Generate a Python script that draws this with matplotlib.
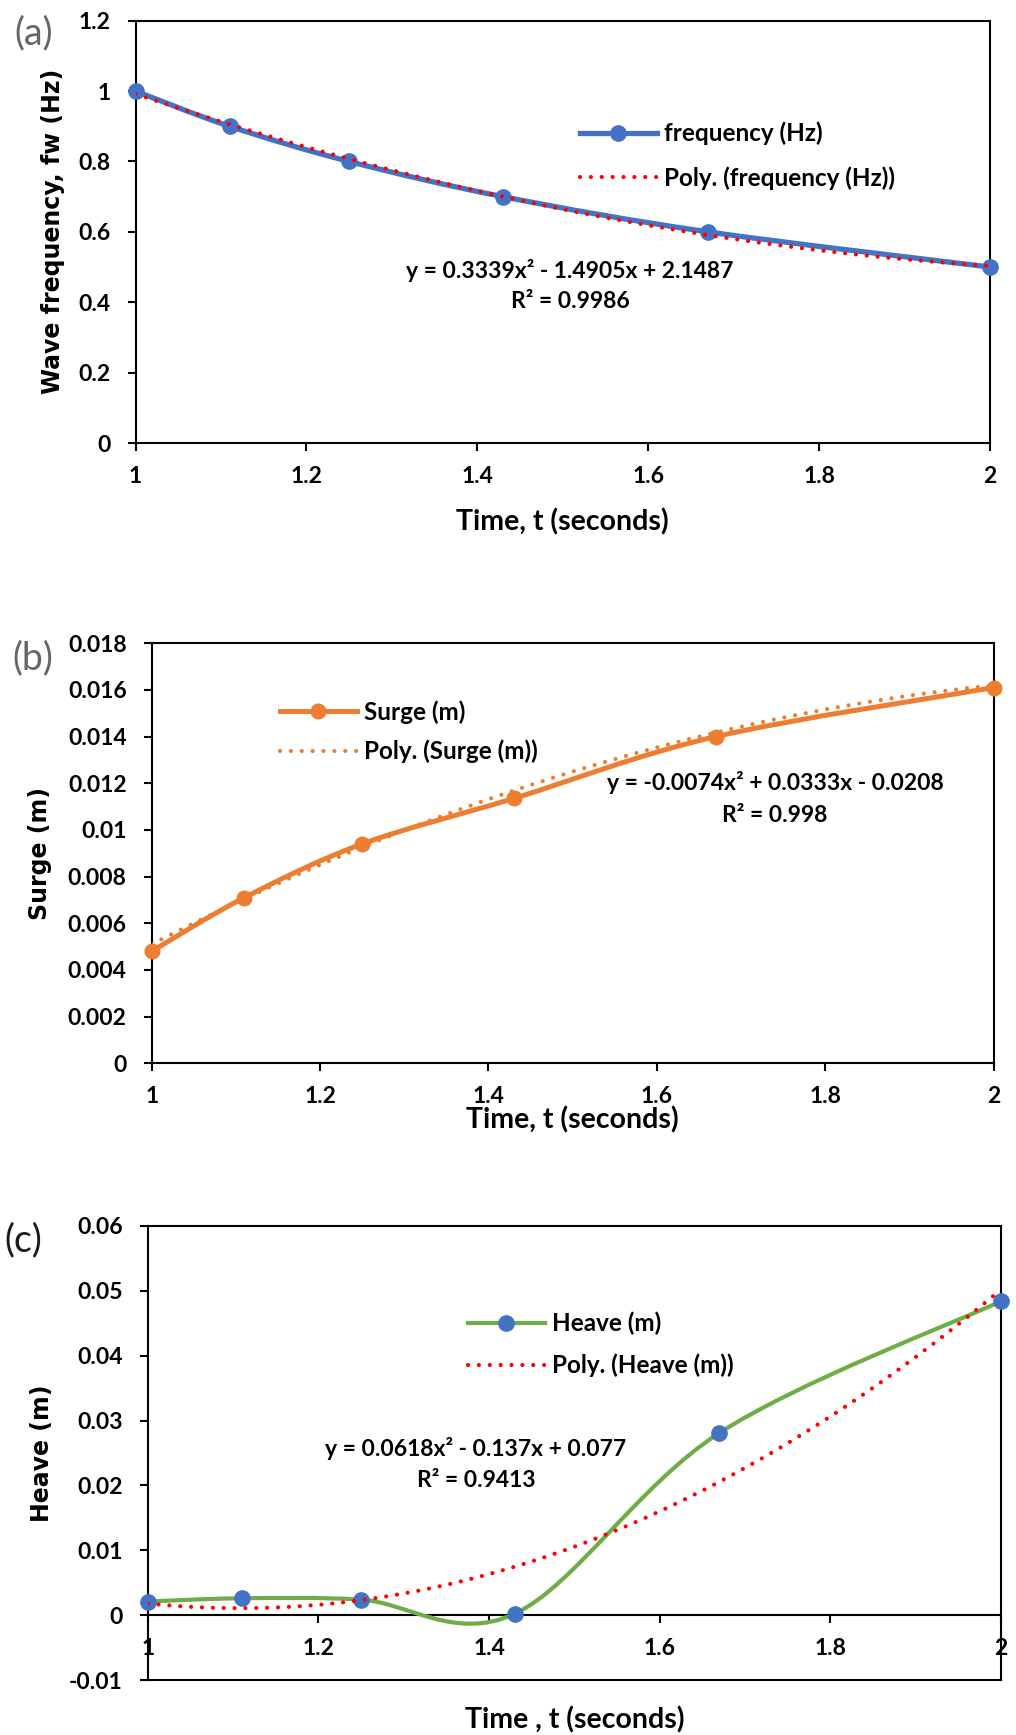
import numpy as np
import matplotlib
matplotlib.use("Agg")
import matplotlib.pyplot as plt
from matplotlib.path import Path
from matplotlib.patches import PathPatch
from matplotlib.lines import Line2D
from matplotlib.ticker import MultipleLocator, FuncFormatter

# ---- data ----
time_s = [1, 1.11, 1.25, 1.43, 1.67, 2]
frequency_hz = [1.0, 0.9, 0.8, 0.7, 0.6, 0.5]
surge_m = [0.0048, 0.0071, 0.0094, 0.01135, 0.0140, 0.0161]
heave_m = [0.0021, 0.0026, 0.0024, 0.0002, 0.0281, 0.0484]

# Excel order-2 polynomial trendlines, coefficients as printed on the chart
freq_fit = [0.3339, -1.4905, 2.1487]
surge_fit = [-0.0074, 0.0333, -0.0208]
heave_fit = [0.0618, -0.137, 0.077]

freq_eq = ["y = 0.3339x² - 1.4905x + 2.1487", "R² = 0.9986"]
surge_eq = ["y = -0.0074x² + 0.0333x - 0.0208", "R² = 0.998"]
heave_eq = ["y = 0.0618x² - 0.137x + 0.077", "R² = 0.9413"]

BLUE = "#4472C4"
ORANGE = "#ED7D31"
GREEN = "#70AD47"
RED = "#FF0000"

plt.rcParams["font.family"] = ["Lato", "DejaVu Sans"]
plt.rcParams["font.weight"] = "bold"

W, H = 1016, 1735
fig = plt.figure(figsize=(W / 100, H / 100), dpi=100)


def fx(px):
    return px / W


def fy(py):
    return 1 - py / H


def smooth_path(x, y):
    # Excel style smoothed line: Catmull-Rom segments as cubic Beziers
    pts = np.column_stack([x, y]).astype(float)
    n = len(pts)
    verts = [pts[0]]
    codes = [Path.MOVETO]
    for i in range(n - 1):
        p_prev = pts[i - 1] if i > 0 else pts[i]
        p_next = pts[i + 2] if i + 2 < n else pts[i + 1]
        c1 = pts[i] + (pts[i + 1] - p_prev) / 6
        c2 = pts[i + 1] - (p_next - pts[i]) / 6
        verts += [c1, c2, pts[i + 1]]
        codes += [Path.CURVE4] * 3
    return Path(verts, codes)


def gfmt(v, pos):
    return "{:g}".format(round(v, 6))


DOTS = (0, (0.01, 2.6))
TREND_LW = 3.0


def panel(box, y, ylim, ystep, fit, eq, ylabel, xlabel, line_c, mark_c, trend_c,
          lw, ms, tag, tag_xy, tag_c, ylab_x, xlab_y, leg_x, leg_y, leg_sp,
          eq_x, eq_y, names, zero_axis=False):
    l, r, t, b = box
    ax = fig.add_axes([fx(l), fy(b), fx(r - l), (b - t) / H])

    ax.add_patch(PathPatch(smooth_path(time_s, y), fill=False, edgecolor=line_c,
                           lw=lw, capstyle="round", joinstyle="round", zorder=3))
    ax.plot(time_s, y, "o", color=mark_c, ms=ms, zorder=4, clip_on=False)
    xt = np.linspace(min(time_s), max(time_s), 300)
    ax.plot(xt, np.polyval(fit, xt), color=trend_c, lw=TREND_LW, ls=DOTS,
            dash_capstyle="round", zorder=5)

    ax.set_xlim(1, 2)
    ax.set_ylim(*ylim)
    ax.xaxis.set_major_locator(MultipleLocator(0.2))
    ax.yaxis.set_major_locator(MultipleLocator(ystep))
    ax.xaxis.set_major_formatter(FuncFormatter(gfmt))
    ax.yaxis.set_major_formatter(FuncFormatter(gfmt))
    ax.tick_params(axis="both", direction="out", length=5.8, width=1.5,
                   labelsize=16.5, color="black")
    ax.tick_params(axis="y", pad=12.2)
    ax.tick_params(axis="x", pad=10.5)
    for s in ax.spines.values():
        s.set_linewidth(1.5)
        s.set_color("black")
    if zero_axis:
        ax.spines["bottom"].set_position(("data", 0))
        ax.axhline(ylim[0], color="black", lw=1.5, clip_on=False)

    ax.set_ylabel(ylabel, family="DejaVu Sans", weight="bold", fontsize=17,
                  va="center")
    ax.yaxis.set_label_coords(fx(ylab_x), fy((t + b) / 2), transform=fig.transFigure)
    ax.set_xlabel(xlabel, fontsize=20.5, weight="bold", va="center")
    ax.xaxis.set_label_coords(fx((l + r) / 2), fy(xlab_y), transform=fig.transFigure)

    handles = [
        Line2D([], [], color=line_c, lw=lw, marker="o", ms=ms,
               markerfacecolor=mark_c, markeredgecolor=mark_c),
        Line2D([], [], color=trend_c, lw=TREND_LW, ls=DOTS, dash_capstyle="round"),
    ]
    fs = 17.5
    ax.legend(handles, names, loc="center left",
              bbox_to_anchor=(fx(leg_x), fy(leg_y)), bbox_transform=fig.transFigure,
              frameon=False, borderpad=0, borderaxespad=0, fontsize=fs,
              handlelength=76.7 / (fs * 100 / 72), handletextpad=0.3,
              labelspacing=leg_sp)

    for line, yy in zip(eq, eq_y):
        fig.text(fx(eq_x), fy(yy), line, ha="center", va="center", fontsize=16.5)

    fig.text(fx(tag_xy[0]), fy(tag_xy[1]), tag, ha="center", va="center",
             fontsize=27, weight="normal", color=tag_c)
    return ax


panel((135.6, 990, 20.7, 443), frequency_hz, (0, 1.2), 0.2, freq_fit, freq_eq,
      "Wave frequency, fw (Hz)", "Time, t (seconds)", BLUE, BLUE, RED,
      3.8, 11, "(a)", (34, 33), "#666666", 53, 521.7,
      580, 155.8, 0.85, 570, (270, 301.7),
      ["frequency (Hz)", "Poly. (frequency (Hz))"])

panel((151.7, 993.5, 643.3, 1063.3), surge_m, (0, 0.018), 0.002, surge_fit, surge_eq,
      "Surge (m)", "Time, t (seconds)", ORANGE, ORANGE, ORANGE,
      3.6, 10.5, "(b)", (32.5, 658), "#666666", 40, 1120,
      280, 731.7, 0.65, 775, (783, 815),
      ["Surge (m)", "Poly. (Surge (m))"])

panel((147.7, 1001, 1226, 1680), heave_m, (-0.01, 0.06), 0.01, heave_fit, heave_eq,
      "Heave (m)", "Time , t (seconds)", GREEN, BLUE, RED,
      3.0, 11, "(c)", (23, 1240), "#1a1a1a", 42, 1720,
      468, 1344.5, 0.77, 476, (1448, 1480),
      ["Heave (m)", "Poly. (Heave (m))"], zero_axis=True)

fig.savefig("out.png", dpi=100, facecolor="white")
